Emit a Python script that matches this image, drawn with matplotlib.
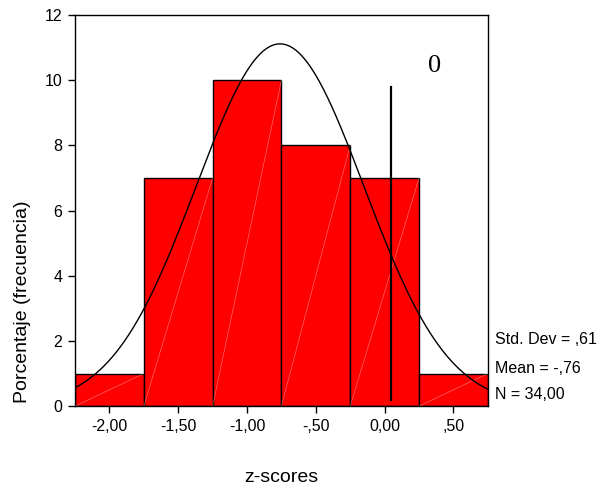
import matplotlib.pyplot as plt
import numpy as np

# histogram data (SPSS style)
bin_centers = [-2.0, -1.5, -1.0, -0.5, 0.0, 0.5]
counts = [1, 7, 10, 8, 7, 1]
bin_width = 0.5

std_dev = 0.61
mean = -0.76
n = 34

xticks = [-2.0, -1.5, -1.0, -0.5, 0.0, 0.5]
xtick_labels = ['-2,00', '-1,50', '-1,00', '-,50', '0,00', ',50']
yticks = [0, 2, 4, 6, 8, 10, 12]

marker_x = 0.05
marker_y = [0.2, 9.8]

plt.rcParams['font.family'] = ['Liberation Sans', 'DejaVu Sans']

fig = plt.figure(figsize=(6, 4.87), dpi=100)
ax = fig.add_axes([0.125, 0.166, 0.688, 0.803])

ax.bar(bin_centers, counts, width=bin_width, color='#ff0000',
       edgecolor='black', linewidth=1.0, zorder=2)

# faint diagonal seams inside the bars
for c, h in zip(bin_centers, counts):
    ax.plot([c - bin_width / 2, c + bin_width / 2], [0, h],
            color='white', linewidth=0.5, alpha=0.4, zorder=3)

# fitted normal curve
xs = np.linspace(-2.25, 0.75, 300)
ys = n * bin_width / (std_dev * np.sqrt(2 * np.pi)) * np.exp(-0.5 * ((xs - mean) / std_dev) ** 2)
ax.plot(xs, ys, color='black', linewidth=1.0, zorder=4)

ax.plot([marker_x, marker_x], marker_y, color='black', linewidth=1.6, zorder=5)
ax.text(0.365, 10.45, '0', fontsize=19, family='Liberation Serif',
        ha='center', va='center')

ax.set_xlim(-2.25, 0.75)
ax.set_ylim(0, 12)
ax.set_xticks(xticks)
ax.set_xticklabels(xtick_labels)
ax.set_yticks(yticks)
ax.tick_params(direction='out', length=5, width=1, labelsize=11.5, pad=4)
for s in ax.spines.values():
    s.set_linewidth(1.0)

# axis titles placed like the SPSS output
fig.text(0.469, 0.011, 'z-scores', fontsize=14, ha='center', va='baseline')
fig.text(0.038, 0.380, 'Porcentaje (frecuencia)', fontsize=14,
         rotation=90, ha='center', va='center')

fig.text(0.825, 0.303, 'Std. Dev = ,61', fontsize=11.5, va='center')
fig.text(0.825, 0.244, 'Mean = -,76', fontsize=11.5, va='center')
fig.text(0.825, 0.189, 'N = 34,00', fontsize=11.5, va='center')

fig.savefig('out.png', dpi=100)
